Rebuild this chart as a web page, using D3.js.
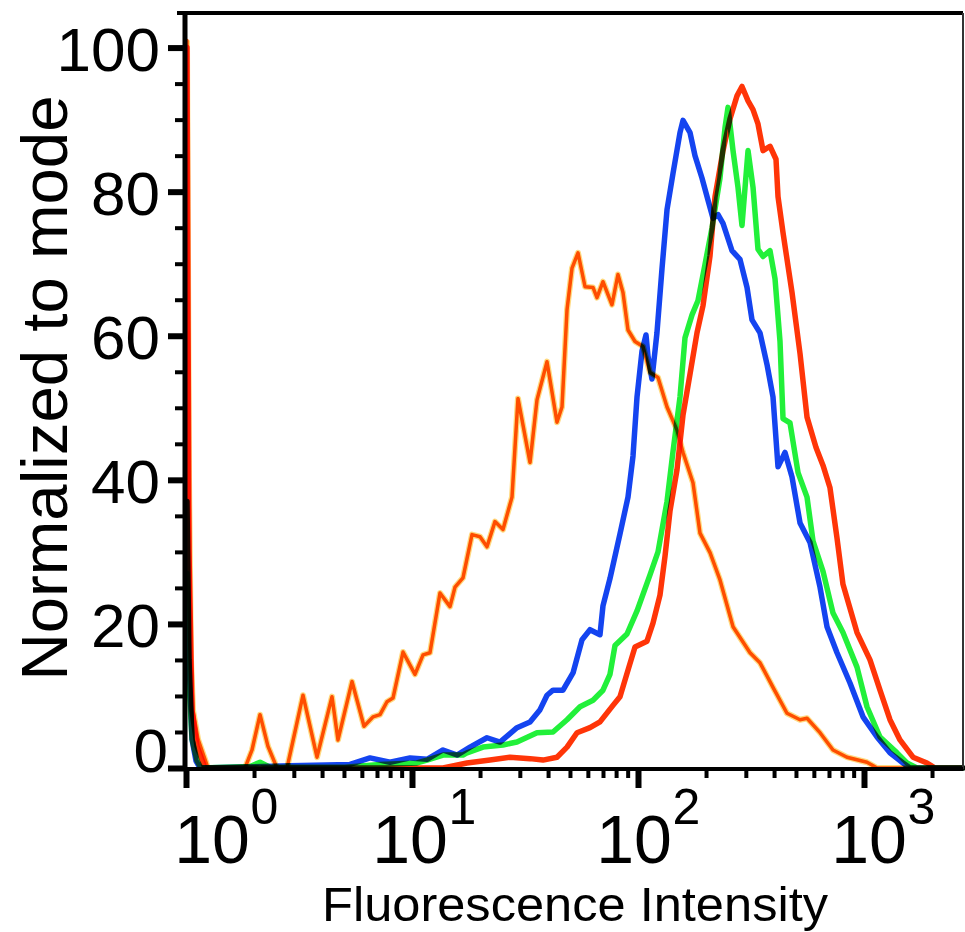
<!DOCTYPE html>
<html><head><meta charset="utf-8">
<script src="https://cdn.jsdelivr.net/npm/d3@7"></script>
<style>body{margin:0;background:#fff}svg{display:block}</style>
</head><body>
<svg id="chart" width="965" height="932"></svg>
<script>
// ---- data ----
const yTicks = [0, 20, 40, 60, 80, 100];
const yMinorTicks = [5,10,15,25,30,35,45,50,55,65,70,75,85,90,95];
const xTicks = [1, 10, 100, 1000];
const xTickExponents = ["0", "1", "2", "3"];
const xMinorTicks = [2,3,4,5,6,7,8,9,20,30,40,50,60,70,80,90,200,300,400,500,600,700,800,900,2000];
const xLabel = "Fluorescence Intensity";
const yLabel = "Normalized to mode";

const orangeX = [1.010,1.031,1.052,1.074,1.130,1.189,1.251,1.824,1.959,2.126,2.306,2.527,2.799,3.294,3.799,4.426,4.705,5.427,6.133,6.722,7.220,7.751,8.239,9.124,10.31,11.19,12.01,13.30,14.73,15.50,16.81,18.43,20.00,21.47,23.29,25.27,27.70,29.44,33.28,35.74,39.57,43.81,46.10,48.52,51.06,54.27,58.29,63.22,65.84,69.99,76.72,81.54,85.81,90.31,97.0,105.2,113.0,122.6,134.4,148.8,158.2,175.1,188.1,208.3,230.6,263.3,313.1,346.6,395.7,456.3,521.2,559.6,638.9,729.3,840.9,1031,1142,2742];
const orangeY = [101,40,15,8,4,2,0,0,2.5,7.4,3,0,0,10.1,1.5,9.9,3.9,12,5.8,7.1,7.4,9.2,9.7,16.1,13,15.7,16,24.3,22.4,25.1,26.4,32.4,32.1,30.7,34.2,33.1,37.6,51.3,42.4,51.1,56.4,48,50.1,63.6,69.4,71.5,66.8,66.7,65.3,67.5,64.3,68.5,66,60.8,59.2,58.5,54.9,54.2,50.1,46.9,43.8,39.6,32.6,29.9,26.1,19.6,16,14.6,11.2,7.6,6.7,6.9,4.9,2.5,1.5,0.8,0,0];

const blueX = [1.010,1.031,1.063,1.107,1.153,2.885,5.318,6.519,7.990,9.798,11.65,13.72,15.82,18.06,21.47,24.51,29.14,33.28,36.86,39.57,42.07,46.57,51.58,56.53,61.32,67.89,69.99,75.17,83.24,90.31,95.04,99.0,104.2,108.5,110.7,115.3,121.3,127.7,134.4,142.8,153.4,158.2,169.9,178.7,191.9,204.1,214.7,226.0,237.8,260.6,282.7,303.7,319.5,346.6,372.3,395.7,416.4,447.2,480.3,521.2,576.9,638.9,686.0,759.6,867.0,989.9,1142,1303,1488,1598,2742];
const blueY = [37,15,4,1,0,0.3,0.5,1.4,0.8,1.4,1.2,2.5,1.8,2.9,4.2,3.6,5.6,6.4,8.1,10.1,10.8,10.8,13.2,17.8,19.2,18.5,22.5,26.3,32.5,37.6,43.3,51.5,57.9,60.1,57.2,54,60.4,69.3,77.5,82.5,88.2,89.9,88.2,85,81.9,78.8,76.3,76.8,75.6,71.8,70.6,66.7,62.2,60.4,56,51.5,41.8,43.8,40.4,34,31.3,25.1,19.6,16,11.8,7.1,4.3,2.1,0.7,0,0];

const greenX = [1.010,1.031,1.063,1.119,1.165,1.920,2.126,2.353,5.053,7.220,10.52,11.65,13.72,16.81,17.51,20.62,25.27,29.14,35.74,42.07,48.52,55.39,63.22,69.99,75.17,79.11,89.39,99.0,113.0,122.6,134.4,142.8,153.4,161.4,173.4,184.3,197.9,212.6,230.6,242.7,250.2,263.3,277.0,288.5,306.8,322.8,339.6,357.4,383.8,403.9,425.0,438.2,470.5,510.7,559.6,594.9,658.7,729.3,807.3,931.2,1031,1177,1400,1550,1716,2742];
const greenY = [27,12,4,1,0,0.2,0.8,0.1,0.1,0.5,0.7,1.1,1.8,1.8,2.1,2.9,3.2,3.6,4.9,5,6.7,8.5,9.4,10.8,13,17,18.6,21.8,26.8,30,37,43.9,51.5,59.7,62.9,64.9,69.9,75,81.9,88.9,91.7,85.7,80.6,75.3,85.7,80.6,72,71,71.8,67.9,59.2,48.5,47.9,41,37.6,31.5,27.3,21.5,18.8,14,8.5,4.3,2.1,0.7,0,0];

const redX = [1.010,1.031,1.063,1.119,1.213,13.72,17.51,22.14,27.14,33.28,37.98,43.81,48.52,53.72,61.32,67.89,77.50,83.24,92.17,97.0,109.6,116.5,125.1,131.7,138.6,148.8,158.2,169.9,182.4,194.0,208.3,219.2,237.8,255.3,274.2,288.5,306.8,322.8,339.6,357.4,383.8,408.0,416.4,438.2,480.3,521.2,559.6,613.4,658.7,707.2,759.6,807.3,931.2,1063,1177,1303,1443,1648,1900,2061,2742];
const redY = [100,30,8,3,0,0,0.7,1.1,1.5,1.3,1.1,1.5,2.9,4.9,5.6,6.4,8.7,9.9,14.5,16.8,17.6,20.1,24,29.4,35.7,41.4,49,54.7,60.4,64.2,71.1,79.3,85.7,90.1,93.3,94.6,92.6,91.4,89.4,85.7,86.3,84.5,79.3,74.3,66,57.5,48.7,44.5,42,38.9,31.9,25.5,18.8,15,10.8,6.7,3.9,1.5,0.7,0,0];

const series = [
  {name: "orange", xs: orangeX, ys: orangeY, color: "#ff5a00", width: 3.5, halo: "#ffb400"},
  {name: "blue",   xs: blueX,   ys: blueY,   color: "#1444f0", width: 5.5},
  {name: "green",  xs: greenX,  ys: greenY,  color: "#22f03a", width: 5.5},
  {name: "red",    xs: redX,    ys: redY,    color: "#ff3508", width: 5.5}
];

// ---- chart ----
const font = "'Liberation Sans', Arial, sans-serif";
const svg = d3.select("#chart");
svg.append("rect").attr("width", 965).attr("height", 932).attr("fill", "#fff");

const x = d3.scaleLog().domain([1, 2742]).range([186, 963]);
const y = d3.scaleLinear().domain([0, 104.8]).range([768, 13]);

const line = d3.line().x(d => x(d[0])).y(d => y(d[1]));
const plot = svg.append("g").style("isolation", "isolate");
series.forEach(s => {
  const pts = s.xs.map((v, i) => [v, s.ys[i]]);
  if (s.halo) {
    plot.append("path").attr("d", line(pts)).attr("fill", "none")
      .attr("stroke", s.halo).attr("stroke-width", s.width + 2.5).attr("stroke-opacity", 0.5)
      .attr("stroke-linejoin", "round").style("mix-blend-mode", "multiply");
  }
  plot.append("path").attr("d", line(pts)).attr("fill", "none")
    .attr("stroke", s.color).attr("stroke-width", s.width)
    .attr("stroke-linejoin", "round").attr("stroke-linecap", "round")
    .style("mix-blend-mode", "multiply");
});

// frame
svg.append("line").attr("x1", 177).attr("x2", 963).attr("y1", 13).attr("y2", 13)
  .attr("stroke", "#000").attr("stroke-width", 4);
svg.append("line").attr("x1", 963).attr("x2", 963).attr("y1", 13).attr("y2", 769)
  .attr("stroke", "#333").attr("stroke-width", 2);

// y axis
function styleAxis(g, w) {
  g.select(".domain").remove();
  g.selectAll(".tick line").attr("stroke", "#000").attr("stroke-width", w);
}
svg.append("g").attr("transform", "translate(185,0)")
  .call(d3.axisLeft(y).tickValues(yMinorTicks).tickSize(10).tickFormat(""))
  .call(g => styleAxis(g, 4));
svg.append("g").attr("transform", "translate(185,0)")
  .call(d3.axisLeft(y).tickValues(yTicks).tickSize(17).tickFormat(""))
  .call(g => styleAxis(g, 6));
svg.append("line").attr("x1", 185).attr("x2", 185).attr("y1", 11).attr("y2", 771)
  .attr("stroke", "#000").attr("stroke-width", 5);

// x axis
svg.append("g").attr("transform", "translate(0,769)")
  .call(d3.axisBottom(x).tickValues(xMinorTicks).tickSize(9).tickFormat(""))
  .call(g => styleAxis(g, 4));
svg.append("g").attr("transform", "translate(0,769)")
  .call(d3.axisBottom(x).tickValues(xTicks).tickSize(19).tickFormat(""))
  .call(g => styleAxis(g, 6));
svg.append("line").attr("x1", 183).attr("x2", 963).attr("y1", 769).attr("y2", 769)
  .attr("stroke", "#000").attr("stroke-width", 4);

// y tick labels
svg.append("g").selectAll("text").data(yTicks).join("text")
  .attr("x", d => d === 0 ? 168 : 160)
  .attr("y", d => d === 0 ? y(d) + 4 : y(d) + 23)
  .attr("text-anchor", "end")
  .attr("font-family", font).attr("font-size", 62).attr("fill", "#000")
  .text(d => d);

// x tick labels (10 with superscript exponent)
const xOffsets = [26, -2, -4, 5];
const xl = svg.append("g");
xTicks.forEach((v, i) => {
  const cx = x(v) + xOffsets[i];
  xl.append("text").attr("x", cx).attr("y", 863).attr("text-anchor", "middle")
    .attr("font-family", font).attr("font-size", 68).attr("fill", "#000").text("10");
  xl.append("text").attr("x", cx + 38.5).attr("y", 824).attr("text-anchor", "start")
    .attr("font-family", font).attr("font-size", 50).attr("fill", "#000").text(xTickExponents[i]);
});

// axis titles
svg.append("text").attr("x", 575).attr("y", 921).attr("text-anchor", "middle")
  .attr("font-family", font).attr("font-size", 49).attr("fill", "#000")
  .attr("textLength", 506).attr("lengthAdjust", "spacingAndGlyphs").text(xLabel);
svg.append("text").attr("transform", "translate(67,388) rotate(-90)").attr("text-anchor", "middle")
  .attr("font-family", font).attr("font-size", 65).attr("fill", "#000")
  .attr("textLength", 585).attr("lengthAdjust", "spacingAndGlyphs").text(yLabel);
</script>
</body></html>
